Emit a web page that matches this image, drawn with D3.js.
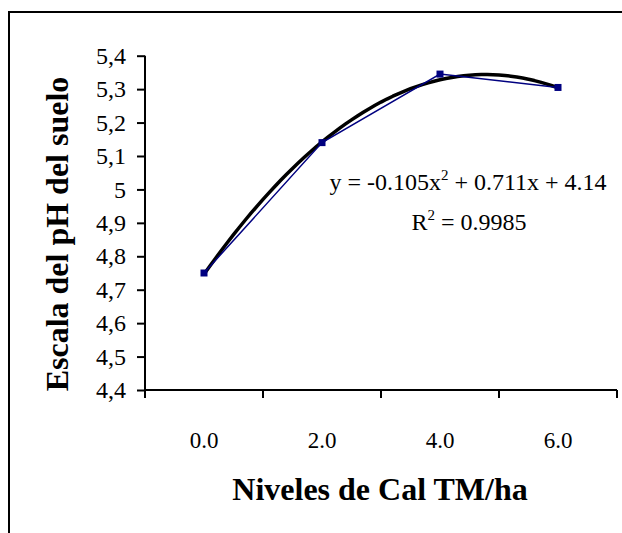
<!DOCTYPE html>
<html>
<head>
<meta charset="utf-8">
<script src="https://cdn.jsdelivr.net/npm/d3@7/dist/d3.min.js"></script>
<style>
  body { margin: 0; background: #fff; }
  svg { display: block; font-family: "Liberation Serif", "Times New Roman", serif; }
</style>
</head>
<body>
<svg width="622" height="533"></svg>
<script>
// data
var categories = ["0.0", "2.0", "4.0", "6.0"];
var phValues = [4.75, 5.14, 5.345, 5.305];
var yTicks = [4.4, 4.5, 4.6, 4.7, 4.8, 4.9, 5.0, 5.1, 5.2, 5.3, 5.4];
// trendline printed on the chart: y = -0.105x^2 + 0.711x + 4.14 (x = 1..4)
var trendCoef = [4.14, 0.711, -0.105];
var trendLabel = ["y = -0.105x", "2", " + 0.711x + 4.14"];
var r2Label = ["R", "2", " = 0.9985"];

var svg = d3.select("svg");

var plotLeft = 145, plotRight = 617, plotTop = 55.7, plotBottom = 390;

// outer frame (right and bottom edges fall outside the picture)
svg.append("path")
    .attr("d", "M9,533V12H622")
    .attr("fill", "none")
    .attr("stroke", "#000")
    .attr("stroke-width", 2);

var x = d3.scaleBand()
    .domain(categories)
    .range([plotLeft, plotRight])
    .padding(0);

var y = d3.scaleLinear()
    .domain([4.4, 5.4])
    .range([plotBottom, plotTop]);

// y axis
var yAxis = d3.axisLeft(y)
    .tickValues(yTicks)
    .tickSize(8)
    .tickPadding(11)
    .tickFormat(function(d) {
        return d3.format("~g")(+d.toFixed(1)).replace(".", ",");
    });

var gy = svg.append("g")
    .attr("transform", "translate(" + plotLeft + ",0)")
    .call(yAxis)
    .attr("font-family", "Liberation Serif");
gy.select(".domain").attr("d", "M0," + plotTop + "V" + plotBottom).attr("stroke-width", 2);
gy.selectAll(".tick line").attr("stroke-width", 2);
gy.selectAll(".tick text")
    .attr("font-size", 24)
    .attr("fill", "#000");

// x axis: ticks on category edges, labels in the middle
var gx = svg.append("g");
gx.append("line")
    .attr("x1", plotLeft).attr("x2", plotRight)
    .attr("y1", plotBottom).attr("y2", plotBottom)
    .attr("stroke", "#000").attr("stroke-width", 2);

var edges = categories.map(function(c) { return x(c); }).concat([x.range()[1]]);
gx.selectAll(".xtick")
    .data(edges)
    .enter().append("line")
    .attr("class", "xtick")
    .attr("x1", function(d) { return d; })
    .attr("x2", function(d) { return d; })
    .attr("y1", plotBottom)
    .attr("y2", plotBottom + 8)
    .attr("stroke", "#000")
    .attr("stroke-width", 2);

gx.selectAll(".xlabel")
    .data(categories)
    .enter().append("text")
    .attr("class", "xlabel")
    .attr("x", function(d) { return x(d) + x.bandwidth() / 2; })
    .attr("y", 448)
    .attr("text-anchor", "middle")
    .attr("font-size", 23)
    .text(function(d) { return d; });

// axis titles
svg.append("text")
    .attr("x", 380)
    .attr("y", 500)
    .attr("text-anchor", "middle")
    .attr("font-size", 32)
    .attr("font-weight", "bold")
    .text("Niveles de Cal TM/ha");

svg.append("text")
    .attr("transform", "translate(68,234) rotate(-90)")
    .attr("text-anchor", "middle")
    .attr("font-size", 32)
    .attr("font-weight", "bold")
    .text("Escala del pH del suelo");

// polynomial trendline
var xi = d3.scaleLinear()
    .domain([1, categories.length])
    .range([x(categories[0]) + x.bandwidth() / 2, x(categories[categories.length - 1]) + x.bandwidth() / 2]);

var trendPts = d3.range(1, categories.length + 0.001, 0.05).map(function(t) {
    return [t, trendCoef[0] + trendCoef[1] * t + trendCoef[2] * t * t];
});

svg.append("path")
    .datum(trendPts)
    .attr("fill", "none")
    .attr("stroke", "#000")
    .attr("stroke-width", 3.5)
    .attr("stroke-linejoin", "round")
    .attr("d", d3.line()
        .x(function(d) { return xi(d[0]); })
        .y(function(d) { return y(d[1]); }));

// data series
var line = d3.line()
    .x(function(d, i) { return x(categories[i]) + x.bandwidth() / 2; })
    .y(function(d) { return y(d); });

svg.append("path")
    .datum(phValues)
    .attr("fill", "none")
    .attr("stroke", "#000080")
    .attr("stroke-width", 1.5)
    .attr("d", line);

svg.selectAll(".marker")
    .data(phValues)
    .enter().append("rect")
    .attr("class", "marker")
    .attr("x", function(d, i) { return x(categories[i]) + x.bandwidth() / 2 - 3.5; })
    .attr("y", function(d) { return y(d) - 3.5; })
    .attr("width", 7)
    .attr("height", 7)
    .attr("fill", "#000080");

// equation labels
function richText(parts, cx, cy) {
    var t = svg.append("text")
        .attr("x", cx)
        .attr("y", cy)
        .attr("text-anchor", "middle")
        .attr("font-size", 24);
    t.append("tspan").text(parts[0]);
    t.append("tspan").attr("font-size", 15).attr("dy", -10).text(parts[1]);
    t.append("tspan").attr("dy", 10).text(parts[2]);
}
richText(trendLabel, 468, 190);
richText(r2Label, 469, 230);
</script>
</body>
</html>
